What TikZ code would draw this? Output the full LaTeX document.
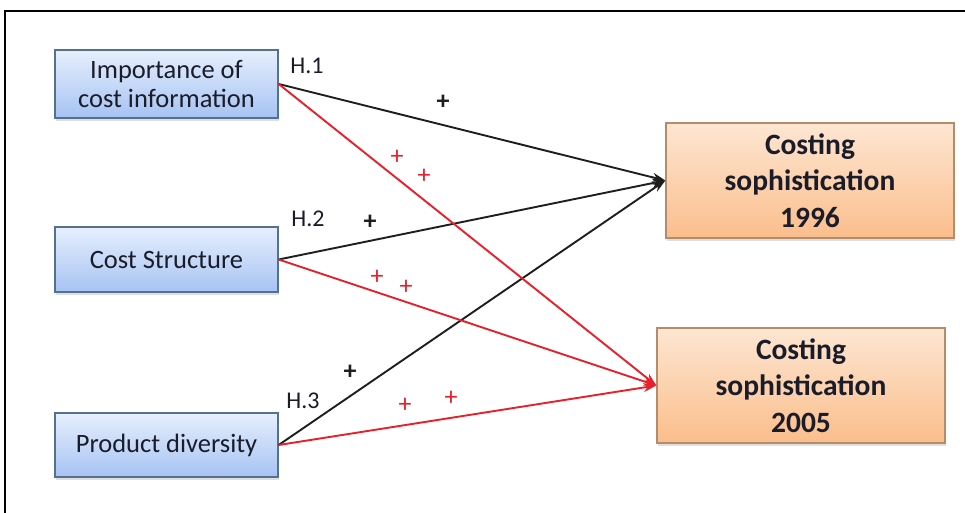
\documentclass[tikz,border=0pt]{standalone}
\usepackage{fontspec}
\setmainfont{Carlito}
\usetikzlibrary{arrows.meta,shadows}

\definecolor{boxblueT}{HTML}{E6EFFD}
\definecolor{boxblueB}{HTML}{A6C3F3}
\definecolor{blueedge}{HTML}{56708F}
\definecolor{boxorT}{HTML}{FDE6D2}
\definecolor{boxorB}{HTML}{FBBE8C}
\definecolor{oredge}{HTML}{B48C6A}
\definecolor{linkred}{HTML}{E8202C}
\definecolor{linkblack}{HTML}{1E1E1E}
\definecolor{inktext}{HTML}{1A1C2A}

\tikzset{
  factor/.style={draw=blueedge, line width=1.3pt, top color=boxblueT, bottom color=boxblueB,
    minimum width=223pt, align=center, text=inktext, inner sep=0pt,
    font=\fontsize{26.5}{29}\selectfont,
    drop shadow={opacity=0.25, shadow xshift=1pt, shadow yshift=-3pt}},
  outcome/.style={draw=oredge, line width=1.3pt, top color=boxorT, bottom color=boxorB,
    minimum width=288pt, minimum height=115pt, align=center, text=inktext, inner sep=0pt,
    font=\fontsize{29.5}{36.5}\selectfont\bfseries,
    drop shadow={opacity=0.25, shadow xshift=1pt, shadow yshift=-3pt}},
  link96/.style={draw=linkblack, line width=1.9pt, -{Stealth[length=13pt,width=9pt]}},
  link05/.style={draw=linkred, line width=1.9pt, -{Stealth[length=13pt,width=9pt]}},
  hyp/.style={font=\fontsize{24}{24}\selectfont, text=inktext, inner sep=0pt},
  sgnb/.style={font=\fontsize{26}{26}\selectfont\bfseries, text=linkblack, inner sep=0pt},
  sgnr/.style={font=\fontsize{26}{26}\selectfont, text=linkred, inner sep=0pt},
}

\begin{document}
\begin{tikzpicture}[x=1pt,y=-1pt]
  \useasboundingbox (0,0) rectangle (965,513);
  \fill[white] (0,0) rectangle (965,513);
  % outer frame (runs past the page on the right and bottom)
  \draw[line width=1.6pt, black] (5,513) -- (5,11) -- (965,11);

  % explanatory factors
  \node[factor, minimum height=68pt] (imp) at (166.5,84) {Importance of\\cost information};
  \node[factor, minimum height=65pt] (cst) at (166.5,259.5) {Cost Structure};
  \node[factor, minimum height=64pt] (div) at (166.5,445) {Product diversity};

  % outcomes
  \node[outcome] (c96) at (810,180.5) {Costing\\sophistication\\1996};
  \node[outcome] (c05) at (801,385.5) {Costing\\sophistication\\2005};

  % links to 1996
  \draw[link96] (imp.east) -- (c96.west);
  \draw[link96] (cst.east) -- (c96.west);
  \draw[link96] (div.east) -- (c96.west);
  % links to 2005
  \draw[link05] (imp.east) -- (c05.west);
  \draw[link05] (cst.east) -- (c05.west);
  \draw[link05] (div.east) -- (c05.west);

  % hypothesis labels
  \node[hyp] (h1) at (307,66) {H.1};
  \node[hyp] (h2) at (308,219) {H.2};
  \node[hyp] (h3) at (303,401) {H.3};

  % expected signs
  \node[sgnb] (s1) at (443,102) {+};
  \node[sgnb] (s2) at (370,222) {+};
  \node[sgnb] (s3) at (350,372) {+};
  \node[sgnr] (r1a) at (397,157) {+};
  \node[sgnr] (r1b) at (424,176) {+};
  \node[sgnr] (r2a) at (377,277) {+};
  \node[sgnr] (r2b) at (406,287) {+};
  \node[sgnr] (r3a) at (405,405) {+};
  \node[sgnr] (r3b) at (451,398) {+};
\end{tikzpicture}
\end{document}
